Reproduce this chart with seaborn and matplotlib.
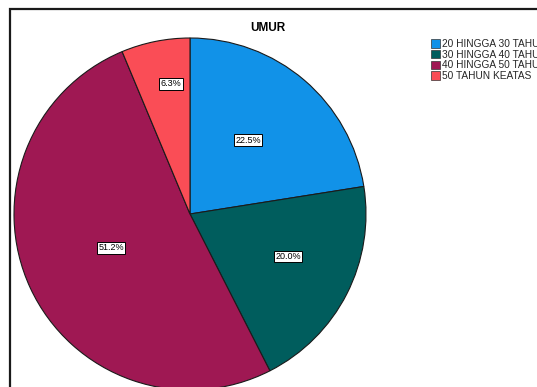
import matplotlib
matplotlib.use("Agg")
import matplotlib.pyplot as plt
from matplotlib.patches import Rectangle, Patch
import seaborn as sns

# Age-group shares (percent of respondents)
categories = ["20 HINGGA 30 TAHUN", "30 HINGGA 40 TAHUN", "40 HINGGA 50 TAHUN", "50 TAHUN KEATAS"]
percents = [22.5, 20.0, 51.2, 6.3]
colors = ["#1192e8", "#005d5d", "#9f1853", "#fa4d56"]
title = "UMUR"

# Label anchor points inside each wedge (fractions of radius)
label_xy = [(0.33, 0.42), (0.557, -0.242), (-0.447, -0.193), (-0.108, 0.739)]

sns.set_theme(style="white")
plt.rcParams["font.family"] = ["Liberation Sans", "DejaVu Sans"]

W, H = 537, 387
fig = plt.figure(figsize=(W / 100, H / 100), dpi=100)
palette = sns.color_palette(colors)

# Outer frame (continues past the right and bottom edges)
fig.patches.append(Rectangle((9.5 / W, -0.1), 1.2, (H - 9.5) / H + 0.1,
                             transform=fig.transFigure, fill=False,
                             edgecolor="#1a1a1a", linewidth=1.6))

cx, cy, r = 190, 214, 176
ax = fig.add_axes([(cx - r) / W, (H - cy - r) / H, 2 * r / W, 2 * r / H])
wedges, _ = ax.pie(percents, colors=palette, startangle=90, counterclock=False,
                   radius=1.0, wedgeprops=dict(edgecolor="#1a1a1a", linewidth=0.8))
for w in wedges:
    w.set_clip_on(False)
ax.set_xlim(-1, 1)
ax.set_ylim(-1, 1)
ax.set_aspect("auto")
ax.axis("off")

for p, (lx, ly) in zip(percents, label_xy):
    ax.text(lx, ly, f"{p:.1f}%", ha="center", va="center",
            fontsize=6.5, color="black",
            bbox=dict(boxstyle="square,pad=0.15", facecolor="white",
                      edgecolor="black", linewidth=0.7))

fig.text(268 / W, 1 - 28 / H, title, ha="center", va="center",
         fontsize=8.5, fontweight="bold", color="black")

handles = [Patch(facecolor=col, edgecolor="#333333", linewidth=0.5) for col in palette]
fig.legend(handles, categories, loc="upper left",
           bbox_to_anchor=(431 / W, 1 - 39 / H), frameon=False,
           fontsize=7.3, handlelength=0.9, handleheight=0.9,
           handletextpad=0.15, labelspacing=0.06, borderpad=0, borderaxespad=0)

fig.savefig("out.png", dpi=100, facecolor="white")
